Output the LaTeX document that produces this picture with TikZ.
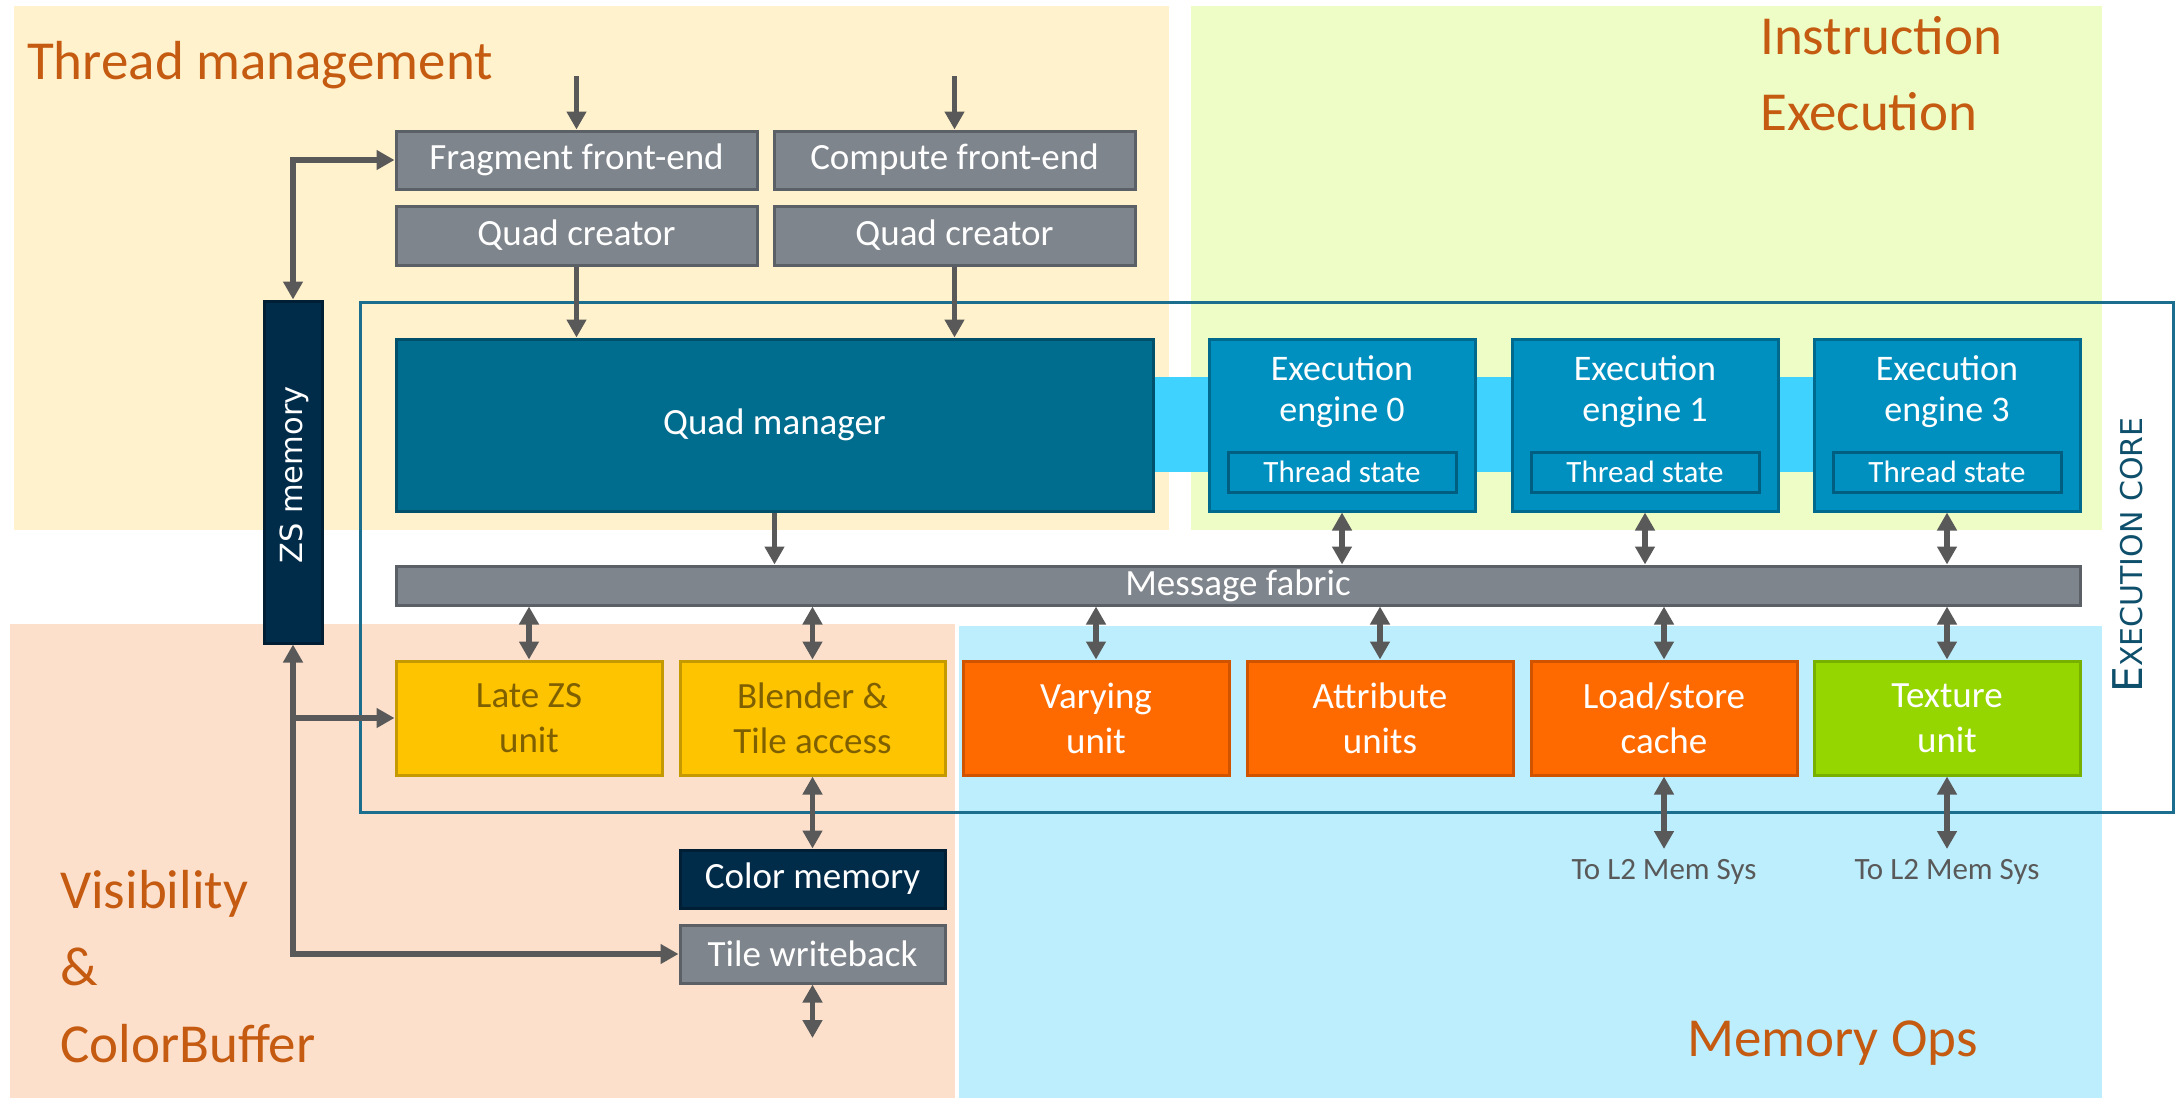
\documentclass[tikz,border=0pt]{standalone}
\usepackage{fontspec}
\setmainfont{Carlito}
\newfontfamily\dejavu{DejaVu Sans}
\usetikzlibrary{arrows.meta}

\definecolor{bgthread}{HTML}{FFF2CC}
\definecolor{bginstr}{HTML}{EDFDC5}
\definecolor{bgvis}{HTML}{FCE0CB}
\definecolor{bgmem}{HTML}{BDEEFD}
\definecolor{titlecol}{HTML}{C55A11}
\definecolor{greyfill}{HTML}{7F858C}
\definecolor{greyline}{HTML}{5B6067}
\definecolor{qmfill}{HTML}{006C8E}
\definecolor{qmline}{HTML}{00506B}
\definecolor{eefill}{HTML}{0090BF}
\definecolor{eeline}{HTML}{006A8E}
\definecolor{tsline}{HTML}{005F80}
\definecolor{band}{HTML}{40D2FF}
\definecolor{navy}{HTML}{002B49}
\definecolor{navyline}{HTML}{001F35}
\definecolor{yelfill}{HTML}{FFC400}
\definecolor{yelline}{HTML}{C49A00}
\definecolor{yeltext}{HTML}{7F6000}
\definecolor{orfill}{HTML}{FF6A00}
\definecolor{orline}{HTML}{D05300}
\definecolor{grfill}{HTML}{96D600}
\definecolor{grline}{HTML}{78B000}
\definecolor{arrowcol}{HTML}{595959}
\definecolor{coreline}{HTML}{1B6E8D}
\definecolor{coretext}{HTML}{0E4F6B}

\newcommand\fsz[2]{\fontsize{#1}{#2}\selectfont}

\begin{document}
\begin{tikzpicture}[x=1pt,y=-1pt,
  blk/.style={draw, line width=3pt, inner sep=0pt, align=center, font=\fsz{37}{45}, text=white},
  greybox/.style={blk, fill=greyfill, draw=greyline},
  qmbox/.style={blk, fill=qmfill, draw=qmline},
  eebox/.style={blk, fill=eefill, draw=eeline},
  tsbox/.style={blk, fill=eefill, draw=tsline, font=\fsz{31}{36}},
  navybox/.style={blk, fill=navy, draw=navyline},
  yelbox/.style={blk, fill=yelfill, draw=yelline, text=yeltext},
  orbox/.style={blk, fill=orfill, draw=orline},
  grbox/.style={blk, fill=grfill, draw=grline},
  title/.style={anchor=base west, inner sep=0pt, text=titlecol, font=\fsz{55}{66}},
  arr/.style={draw=arrowcol, line width=5.5pt, -{Triangle[length=18pt,width=19pt]}},
  dbl/.style={draw=arrowcol, line width=5.5pt, {Triangle[length=18pt,width=19pt]}-{Triangle[length=18pt,width=19pt]}},
  memlbl/.style={anchor=base, inner sep=0pt, text=arrowcol, font=\fsz{31}{36}}
]
\useasboundingbox (0,0) rectangle (2176,1103);

% functional regions
\fill[bgthread] (14,6) rectangle (1169,530);
\fill[bginstr] (1191,6) rectangle (2102,530);
\fill[bgvis] (10,624) rectangle (955,1098);
\fill[bgmem] (959,626) rectangle (2102,1098);

% region titles
\node[title] (tthread) at (27,79) {Thread management};
\node[title] (tinstr1) at (1760,54) {Instruction};
\node[title] (tinstr2) at (1760,130) {Execution};
\node[title] (tvis1) at (60,908) {Visibility};
\node[title] (tvis2) at (60,985) {\&};
\node[title] (tvis3) at (60,1062) {ColorBuffer};
\node[title] (tmem) at (1687,1056) {Memory Ops};

% execution core frame
\draw[coreline, line width=3pt] (360,302) rectangle (2173,812);
\node[rotate=90, anchor=base, inner sep=0pt, text=coretext] (corelbl) at (2142,555)
  {\dejavu\fsz{41}{41}E\fsz{30}{30}XECUTION CORE};

% front-ends
\node[greybox, minimum width=361pt, minimum height=58pt] (frag) at (576.5,160) {Fragment front-end};
\node[greybox, minimum width=361pt, minimum height=58pt] (comp) at (954.5,160) {Compute front-end};
\node[greybox, minimum width=361pt, minimum height=59pt] (qc1) at (576.5,235.5) {Quad creator};
\node[greybox, minimum width=361pt, minimum height=59pt] (qc2) at (954.5,235.5) {Quad creator};

% band linking the quad manager and the engines
\fill[band] (1153,377) rectangle (1814,472);

% quad manager and execution engines
\node[qmbox, minimum width=757pt, minimum height=172pt] (qm) at (774.5,425) {Quad manager};
\foreach \n/\cx/\lbl in {0/1342/0, 1/1645/1, 3/1947/3}{
  \node[eebox, minimum width=266pt, minimum height=172pt] (ee\n) at (\cx,425) {};
  \node[inner sep=0pt, align=center, text=white, font=\fsz{36}{41}] (ee\n t) at (\cx,392) {Execution\\engine \lbl};
  \node[tsbox, minimum width=228pt, minimum height=40pt] (ts\n) at (\cx,472) {Thread state};
}

% message fabric
\node[greybox, minimum width=1684pt, minimum height=39pt] (fab) at (1238,585.5) {Message fabric};

% units on the fabric
\node[yelbox, minimum width=266pt, minimum height=114pt] (lzs) at (529,718) {Late ZS\\unit};
\node[yelbox, minimum width=265pt, minimum height=114pt] (bl) at (812.5,718) {Blender \&\\Tile access};
\node[orbox, minimum width=266pt, minimum height=114pt] (vu) at (1096,718) {Varying\\unit};
\node[orbox, minimum width=266pt, minimum height=114pt] (au) at (1380,718) {Attribute\\units};
\node[orbox, minimum width=266pt, minimum height=114pt] (ls) at (1664,718) {Load/store\\cache};
\node[grbox, minimum width=266pt, minimum height=114pt] (tx) at (1947,718) {Texture\\unit};

% colour buffer path
\node[navybox, minimum width=265pt, minimum height=58pt] (cm) at (812.5,879) {Color memory};
\node[greybox, minimum width=265pt, minimum height=58pt] (wb) at (812.5,954) {Tile writeback};

% ZS memory
\node[navybox, minimum width=58pt, minimum height=342pt] (zs) at (293,472) {};
\node[rotate=90, anchor=base, inner sep=0pt, text=white] (zslbl) at (302,475)
  {\dejavu\fsz{30.5}{31}ZS memory};

% free ends of connectors
\coordinate (fin) at (576.5,76);
\coordinate (cin) at (954.5,76);
\coordinate (wbout) at (812.5,1038);
\coordinate (lsout) at (1664,849);
\coordinate (txout) at (1947,849);

\node[memlbl] (lsl2) at (1664,879) {To L2 Mem Sys};
\node[memlbl] (txl2) at (1947,879) {To L2 Mem Sys};

% connectors
\draw[arr] (fin) -- (frag.north);
\draw[arr] (cin) -- (comp.north);
\draw[arr] (qc1.south) -- (qc1.south |- qm.north);
\draw[arr] (qc2.south) -- (qc2.south |- qm.north);
\draw[arr] (qm.south) -- (qm.south |- fab.north);
\foreach \n in {0,1,3}{
  \draw[dbl] (ee\n.south) -- (ee\n.south |- fab.north);
}
\foreach \u in {lzs,bl,vu,au,ls,tx}{
  \draw[dbl] (\u.north |- fab.south) -- (\u.north);
}
\draw[dbl] (bl.south) -- (cm.north);
\draw[dbl] (wb.south) -- (wbout);
\draw[dbl] (ls.south) -- (lsout);
\draw[dbl] (tx.south) -- (txout);
\draw[dbl] (zs.north) |- (frag.west);
\draw[dbl] (zs.south) |- (wb.west);
\draw[arr] (zs.south |- lzs.west) -- (lzs.west);
\end{tikzpicture}
\end{document}
